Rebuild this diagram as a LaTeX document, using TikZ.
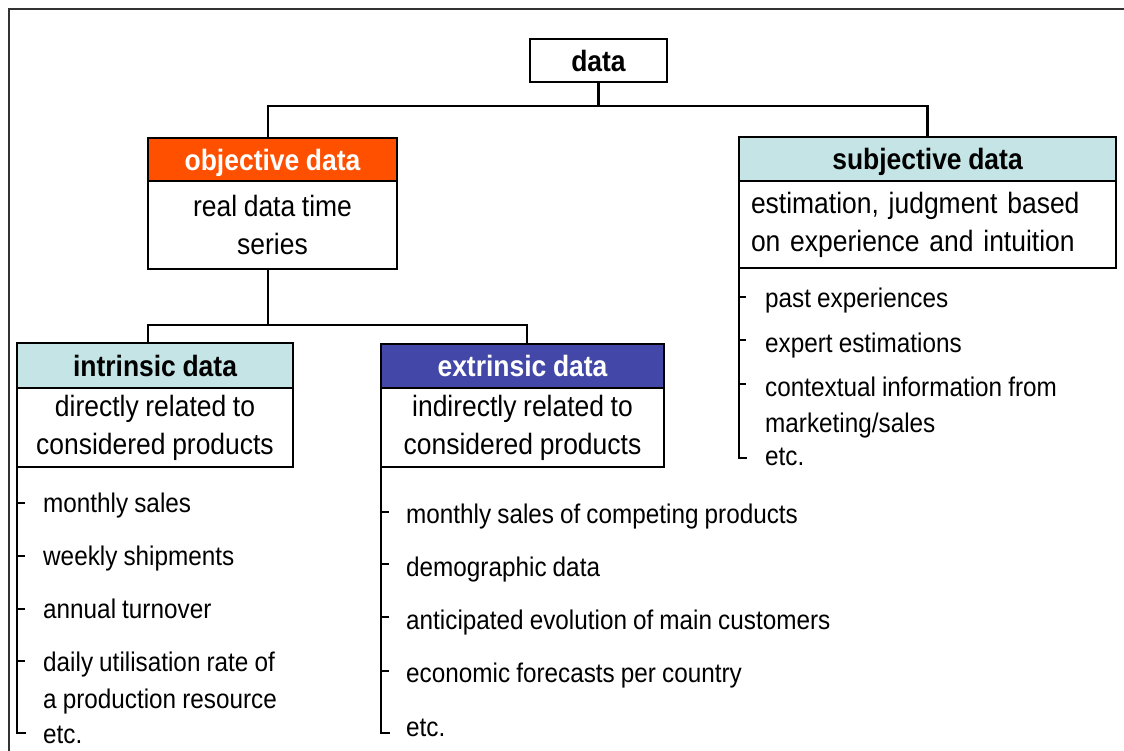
\documentclass[tikz,border=0pt]{standalone}
\usepackage{fontspec}
\setmainfont[FakeStretch=0.9,WordSpace=0.9]{Liberation Sans}
\usetikzlibrary{calc}

\definecolor{objorange}{RGB}{255,80,0}
\definecolor{paleteal}{RGB}{196,228,230}
\definecolor{extblue}{RGB}{67,72,168}

\newcommand\boxfont{\fontsize{29.4}{38}\selectfont}
\newcommand\listfont{\fontsize{27}{35}\selectfont}

\begin{document}
\begin{tikzpicture}[x=1pt,y=-1pt,
  boxshape/.style={draw=black, line width=2.6pt, rectangle, inner sep=0pt, outer sep=0pt},
  headbox/.style={boxshape, font=\boxfont\bfseries, text depth=0pt},
  bodybox/.style={boxshape, fill=white, font=\boxfont, align=center},
  conn/.style={line width=2.3pt, line cap=rect},
  bracket/.style={line width=2.4pt},
  item/.style={font=\listfont, anchor=base west, inner sep=0pt},
  frameline/.style={line width=1.6pt, draw=black!80}]
\useasboundingbox (0,0) rectangle (1124,751);

% outer frame (open to the right and bottom)
\draw[frameline] (9,751) -- (9,9) -- (1124,9);

% root
\node[headbox, minimum width=137pt, minimum height=43pt] (data) at (598.5,60.5) {data};

% objective branch
\node[headbox, fill=objorange, text=white, minimum width=249pt, minimum height=43pt]
  (objhead) at (272.5,159.5) {objective data};
\node[bodybox, minimum width=249pt, minimum height=88pt] (objbody) at (272.5,225)
  {real data time\\series};

% subjective branch
\node[headbox, fill=paleteal, minimum width=377pt, minimum height=44pt]
  (subhead) at (927.5,159) {subjective data};
\node[bodybox, align=left, text width=353pt, inner xsep=12pt, minimum height=87pt]
  (subbody) at (927.5,224.5) {estimation, judgment based\\on experience and intuition};

% intrinsic data
\node[headbox, fill=paleteal, minimum width=276pt, minimum height=45pt]
  (inthead) at (155,365.5) {intrinsic data};
\node[bodybox, minimum width=276pt, minimum height=79pt] (intbody) at (155,427.5)
  {directly related to\\considered products};

% extrinsic data
\node[headbox, fill=extblue, text=white, minimum width=283pt, minimum height=44pt]
  (exthead) at (522.5,366) {extrinsic data};
\node[bodybox, minimum width=283pt, minimum height=79pt] (extbody) at (522.5,427.5)
  {indirectly related to\\considered products};

% tree connectors
\draw[conn] (data.south) -- ++(0,24) coordinate (j1);
\draw[conn] ([xshift=-4.5pt]objhead.north) |- (j1) -| (subhead.north);
\draw[conn] ([xshift=-4.5pt]objbody.south) -- ++(0,56) coordinate (j2);
\draw[conn] ([xshift=-7pt]inthead.north) |- (j2) -| ([xshift=4.5pt]exthead.north);

% intrinsic list
\node[item] (i1) at (43,512) {monthly sales};
\node[item] (i2) at (43,565.5) {weekly shipments};
\node[item] (i3) at (43,618.5) {annual turnover};
\node[item] (i4) at (43,671.5) {daily utilisation rate of};
\node[item] (i5) at (43,708) {a production resource};
\node[item] (i6) at (43,743) {etc.};
\draw[bracket] (intbody.south west) -- (intbody.south west |- 0,733) -- ++(9,0);
\foreach \ty in {503,556,609,661}
  \draw[bracket] (intbody.south west |- 0,\ty) -- ++(8,0);

% extrinsic list
\node[item] (e1) at (406,523.5) {monthly sales of competing products};
\node[item] (e2) at (406,576.5) {demographic data};
\node[item] (e3) at (406,629) {anticipated evolution of main customers};
\node[item] (e4) at (406,682) {economic forecasts per country};
\node[item] (e5) at (406,736) {etc.};
\draw[bracket] (extbody.south west) -- (extbody.south west |- 0,733) -- ++(9,0);
\foreach \ty in {512,564,617,671}
  \draw[bracket] (extbody.south west |- 0,\ty) -- ++(8,0);

% subjective list
\node[item] (s1) at (765,307.5) {past experiences};
\node[item] (s2) at (765,352) {expert estimations};
\node[item] (s3) at (765,396) {contextual information from};
\node[item] (s4) at (765,432) {marketing/sales};
\node[item] (s5) at (765,465) {etc.};
\draw[bracket] (subbody.south west) -- (subbody.south west |- 0,458) -- ++(8,0);
\foreach \ty in {297,340,384}
  \draw[bracket] (subbody.south west |- 0,\ty) -- ++(7,0);
\end{tikzpicture}
\end{document}
